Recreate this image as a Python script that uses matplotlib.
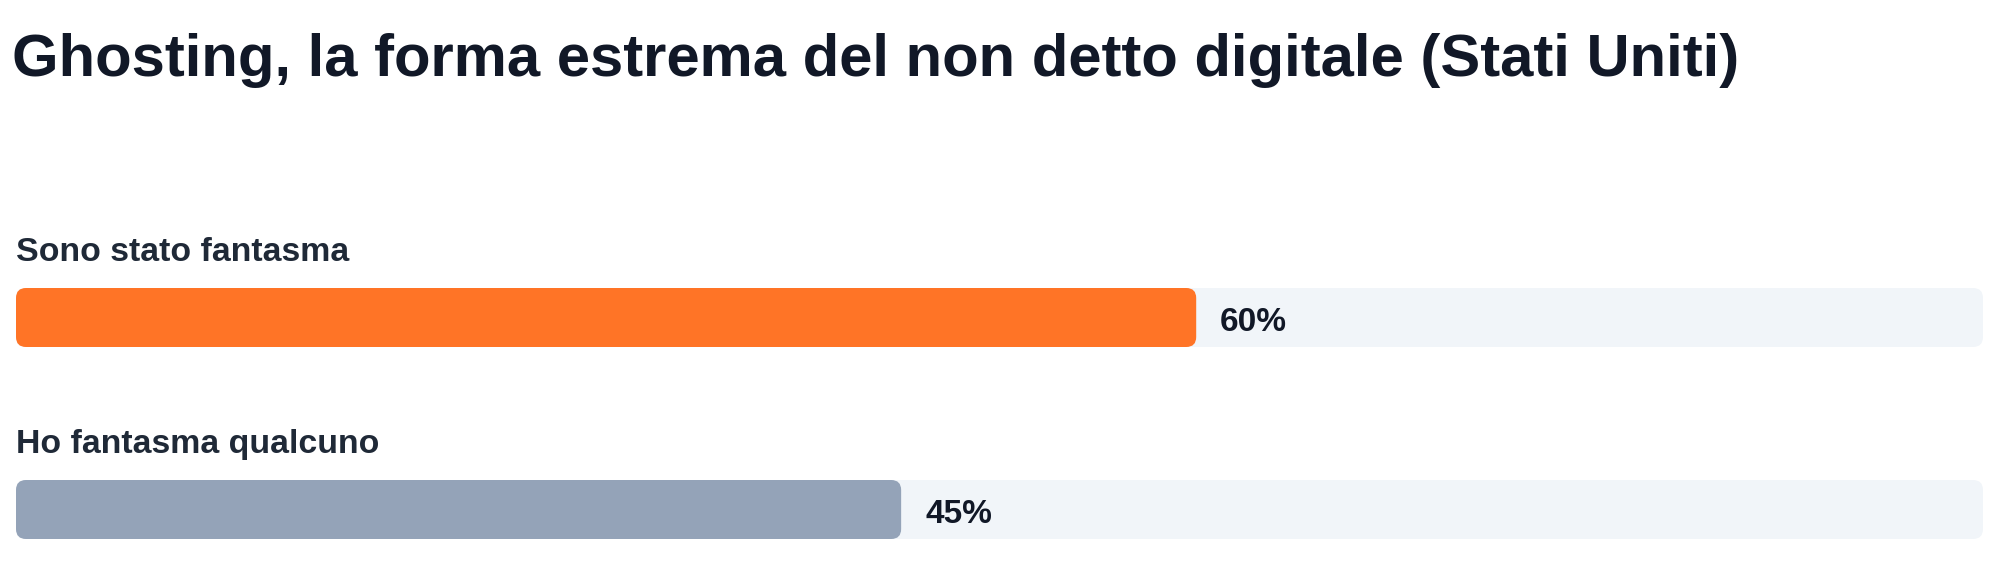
import matplotlib
matplotlib.use("Agg")
import matplotlib.pyplot as plt
from matplotlib.patches import FancyBboxPatch

plt.rcParams["font.family"] = ["Liberation Sans", "DejaVu Sans"]

title = "Ghosting, la forma estrema del non detto digitale (Stati Uniti)"
categories = ["Sono stato fantasma", "Ho fantasma qualcuno"]
values = [60, 45]
bar_colors = ["#FF7426", "#94A3B8"]
track_color = "#F1F5F9"

W, H = 2000, 588
fig = plt.figure(figsize=(W / 100, H / 100), dpi=100)
fig.patch.set_facecolor("white")

# axes in pixel layout: x from 16px to 1983px, full height
left_px, right_px = 16, 1983
ax = fig.add_axes([left_px / W, 0, (right_px - left_px) / W, 1])
ax.axis("off")

row_px = 192.0          # spacing between bar centers (px)
first_center_px = 317.5  # first bar center from top (px)
ax.set_xlim(0, 100)
ax.set_ylim((H - first_center_px) / row_px, -first_center_px / row_px)

x_per_px = 100 / (right_px - left_px)
y_per_px = 1 / row_px
bar_h = 59 * y_per_px
rad = 10 * x_per_px
aspect = y_per_px / x_per_px

for i, (cat, val, col) in enumerate(zip(categories, values, bar_colors)):
    track = FancyBboxPatch((0, i - bar_h / 2), 100, bar_h,
                           boxstyle=f"round,pad=0,rounding_size={rad}",
                           mutation_aspect=aspect, fc=track_color, ec="none")
    ax.add_patch(track)
    bar = FancyBboxPatch((0, i - bar_h / 2), val, bar_h,
                         boxstyle=f"round,pad=0,rounding_size={rad}",
                         mutation_aspect=aspect, fc=col, ec="none")
    ax.add_patch(bar)
    ax.text(0, i - 56.5 * y_per_px, cat, fontsize=24.4, fontweight="bold",
            color="#1F2937", ha="left", va="baseline")
    ax.text(val + 24 * x_per_px, i + 13.5 * y_per_px, f"{val}%", fontsize=24,
            fontweight="bold", color="#111827", ha="left", va="baseline")

fig.text(12 / W, 1 - 76 / H, title, fontsize=43, fontweight="bold",
         color="#111827", ha="left", va="baseline")

fig.savefig("out.png", dpi=100, facecolor="white")
